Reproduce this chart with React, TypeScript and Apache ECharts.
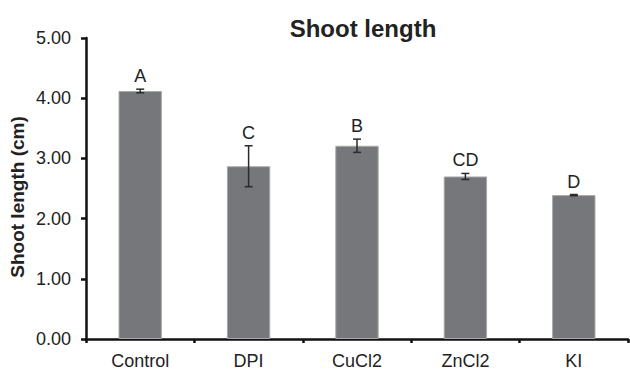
import React, { useEffect, useRef } from "react";
import * as echarts from "echarts";

const categories = ["Control", "DPI", "CuCl2", "ZnCl2", "KI"];
const means = [4.12, 2.87, 3.21, 2.7, 2.39];
const errors = [0.03, 0.34, 0.11, 0.05, 0.01];
const letters = ["A", "C", "B", "CD", "D"];
const yTicks = [0, 1, 2, 3, 4, 5];
const yTitle = "Shoot length (cm)";
const chartTitle = "Shoot length";

export default function App() {
  const ref = useRef<HTMLDivElement>(null);
  useEffect(() => {
    document.body.style.margin = "0";
    const chart = echarts.init(ref.current!, null, { renderer: "svg" });
    const font = "Liberation Sans, Arial, sans-serif";
    chart.setOption({
      animation: false,
      backgroundColor: "#ffffff",
      title: {
        text: chartTitle,
        left: 358,
        top: 11,
        textAlign: "center",
        textStyle: { fontFamily: font, fontSize: 24, fontWeight: "bold", color: "#222" },
      },
      graphic: [
        {
          type: "text",
          x: 17,
          y: 197,
          rotation: Math.PI / 2,
          style: {
            text: yTitle,
            textAlign: "center",
            textVerticalAlign: "middle",
            fontFamily: font,
            fontSize: 19,
            fontWeight: "bold",
            fill: "#222",
          },
        },
      ],
      grid: { left: 86, right: 2, top: 38, bottom: 28, containLabel: false },
      xAxis: {
        type: "category",
        data: categories,
        axisLine: { lineStyle: { color: "#111", width: 2.5 } },
        axisTick: { show: true, alignWithLabel: false, length: 4, lineStyle: { color: "#111", width: 2.5 } },
        axisLabel: { fontFamily: font, fontSize: 18, color: "#222", margin: 13 },
      },
      yAxis: {
        type: "value",
        min: yTicks[0],
        max: yTicks[yTicks.length - 1],
        interval: 1,
        axisLine: { show: true, lineStyle: { color: "#111", width: 2.5 } },
        axisTick: { show: true, length: 5, lineStyle: { color: "#111", width: 2.5 } },
        splitLine: { show: false },
        axisLabel: {
          fontFamily: font,
          fontSize: 18,
          color: "#222",
          margin: 15,
          formatter: (v: number) => v.toFixed(2),
        },
      },
      series: [
        {
          type: "bar",
          data: means,
          barWidth: "40%",
          itemStyle: { color: "#76777a", borderColor: "#a8a9ab", borderWidth: 1 },
          z: 2,
        },
        {
          type: "custom",
          data: means.map((m, i) => [i, m, errors[i]]),
          z: 3,
          renderItem: (params: any, api: any) => {
            const i = api.value(0);
            const m = api.value(1);
            const e = api.value(2);
            const letter = letters[i];
            const top = api.coord([i, m + e]);
            const bot = api.coord([i, m - e]);
            const x = top[0];
            const cap = 4;
            const st = { stroke: "#2a2a2a", lineWidth: 1.5 };
            return {
              type: "group",
              children: [
                { type: "line", shape: { x1: x, y1: top[1], x2: x, y2: bot[1] }, style: st },
                { type: "line", shape: { x1: x - cap, y1: top[1], x2: x + cap, y2: top[1] }, style: st },
                { type: "line", shape: { x1: x - cap, y1: bot[1], x2: x + cap, y2: bot[1] }, style: st },
                {
                  type: "text",
                  style: {
                    text: letter,
                    x: x,
                    y: top[1] - 13,
                    textAlign: "center",
                    textVerticalAlign: "middle",
                    fontFamily: font,
                    fontSize: 18,
                    fill: "#222",
                  },
                },
              ],
            };
          },
        },
      ],
    });
    return () => chart.dispose();
  }, []);
  return <div ref={ref} style={{ width: 630, height: 370 }} />;
}
